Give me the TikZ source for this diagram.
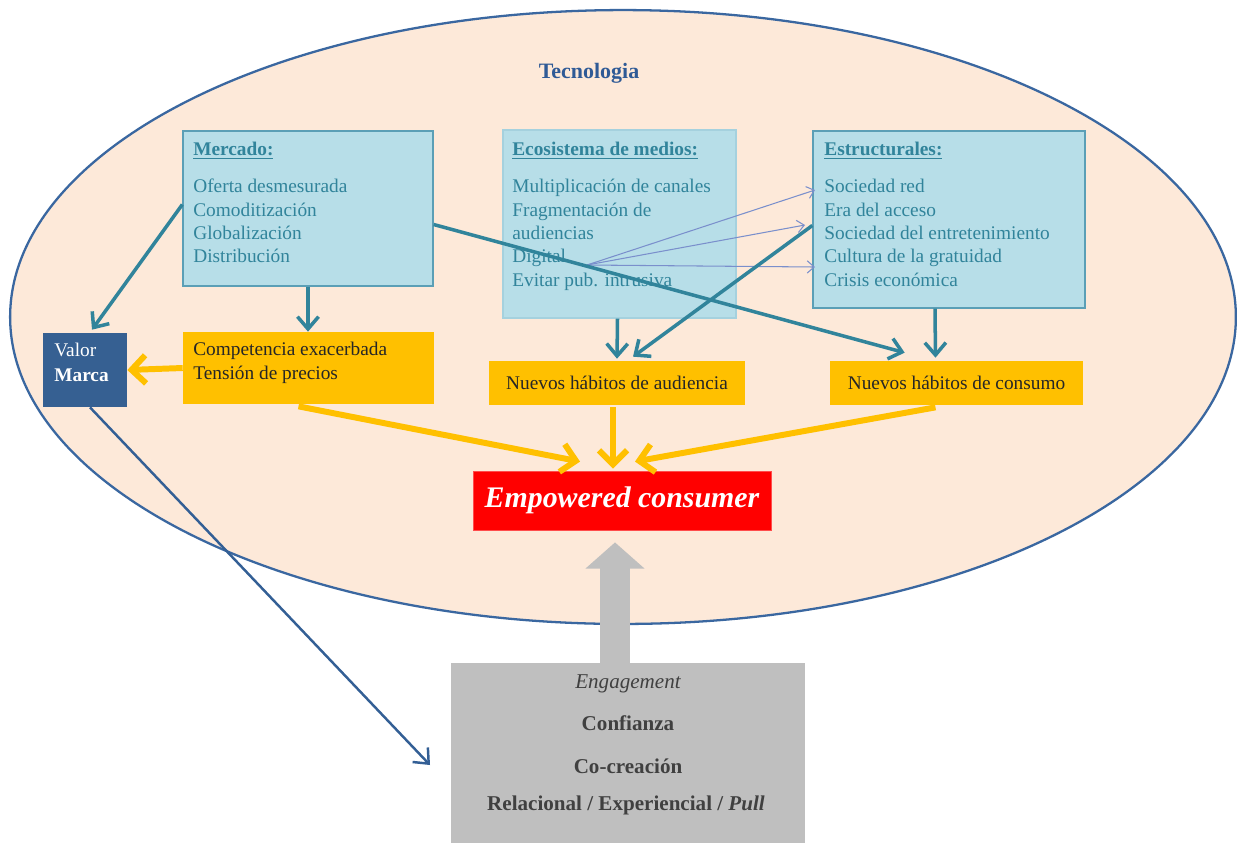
\documentclass[tikz,border=0pt]{standalone}
\usepackage{fontspec}
\setmainfont{Liberation Serif}
\usetikzlibrary{arrows.meta,calc}

\definecolor{ellfill}{HTML}{FDE9D9}
\definecolor{elldraw}{HTML}{3A67A0}
\definecolor{boxblue}{HTML}{B7DEE8}
\definecolor{boxedge}{HTML}{5B9FB6}
\definecolor{teal}{HTML}{31849B}
\definecolor{valorblue}{HTML}{366092}
\definecolor{amber}{HTML}{FFC000}
\definecolor{greybox}{HTML}{BFBFBF}
\definecolor{greytext}{HTML}{404040}
\definecolor{thinblue}{HTML}{7A8FCC}
\definecolor{longblue}{HTML}{335F95}
\definecolor{titleblue}{HTML}{2F5A96}

\newcommand{\txt}{\fontsize{11}{13.3}\selectfont}

\begin{document}
\begin{tikzpicture}[x=0.02cm,y=-0.02cm,
  panel/.style={rectangle,fill=boxblue,draw=boxedge,line width=0.8pt,inner sep=0pt},
  panelhead/.style={anchor=north west,inner sep=0pt,align=left,text=teal,font=\txt},
  amberbox/.style={rectangle,fill=amber,inner sep=0pt},
  tealarrow/.style={draw=teal,line width=2pt,-{Straight Barb[length=7pt,width=12pt]}},
  amberarrow/.style={draw=amber,line width=3.4pt,-{Straight Barb[length=8pt,width=16pt]}},
  thinarrow/.style={draw=thinblue,line width=0.6pt,-{Straight Barb[length=4pt,width=7pt]}},
  greyline/.style={inner sep=0pt,text=greytext,font=\fontsize{12}{14}\selectfont}
]
\useasboundingbox (0,0) rectangle (1237,843);
\fill[white] (0,0) rectangle (1237,843);

% technology ellipse
\draw[fill=ellfill,draw=elldraw,line width=1.3pt] (623,317) ellipse [x radius=12.26cm, y radius=6.14cm];
\node (tecno) at (589,73) [inner sep=0pt,text=titleblue,font=\fontsize{12.5}{14}\selectfont\bfseries] {Tecnologia};

% three driver panels
\node[panel,minimum width=5cm,minimum height=3.1cm] (mercado) at (308,208.5) {};
\node[panelhead] (mercadotxt) at (193,142)
  {\underline{\textbf{Mercado:}}\\[7.7pt]Oferta desmesurada\\Comoditización\\Globalización\\Distribución};

\node[panel,draw=boxblue!80!boxedge,minimum width=4.66cm,minimum height=3.76cm] (eco) at (619.5,224) {};
\node[panelhead] (ecotxt) at (512,142)
  {\underline{\textbf{Ecosistema de medios:}}\\[7.7pt]Multiplicación de canales\\Fragmentación de\\audiencias\\Digital\\Evitar pub. intrusiva};

\node[panel,minimum width=5.44cm,minimum height=3.54cm] (estr) at (949,219.5) {};
\node[panelhead] (estrtxt) at (824,142)
  {\underline{\textbf{Estructurales:}}\\[7.7pt]Sociedad red\\Era del acceso\\Sociedad del entretenimiento\\Cultura de la gratuidad\\Crisis económica};

% effects
\node[rectangle,fill=valorblue,inner sep=0pt,minimum width=1.68cm,minimum height=1.48cm] (valor) at (85,370) {};
\node[anchor=north west,inner sep=0pt,align=left,text=white,font=\fontsize{11}{14}\selectfont] (valortxt) at (54,343) {Valor\\\textbf{Marca}};

\node[amberbox,minimum width=5.02cm,minimum height=1.44cm] (comp) at (308.5,368) {};
\node[anchor=north west,inner sep=0pt,align=left,text=black!85,font=\txt] (comptxt) at (193,342) {Competencia exacerbada\\Tensión de precios};

\node[amberbox,minimum width=5.12cm,minimum height=0.88cm,text=black!85,font=\txt] (aud) at (617,383) {Nuevos hábitos de audiencia};
\node[amberbox,minimum width=5.06cm,minimum height=0.88cm,text=black!85,font=\txt] (cons) at (956.5,383) {Nuevos hábitos de consumo};

\node[rectangle,fill=red,draw=red!70!white,line width=0.5pt,inner sep=0pt,minimum width=5.96cm,minimum height=1.18cm,text=white,font=\fontsize{17}{20}\selectfont\bfseries\itshape] (emp) at (622,500.5) {Empowered consumer};

% engagement block
\node[rectangle,fill=greybox,inner sep=0pt,minimum width=7.08cm,minimum height=3.6cm] (grey) at (628,753) {};
\node[greyline,font=\fontsize{12}{14}\selectfont\itshape] (g1) at (628,684) {Engagement};
\node[greyline,font=\fontsize{12}{14}\selectfont\bfseries] (g2) at (628,723) {Confianza};
\node[greyline,font=\fontsize{12}{14}\selectfont\bfseries] (g3) at (628,766) {Co-creación};
\node[greyline,font=\fontsize{12}{14}\selectfont\bfseries] (g4) at (626,805) {Relacional / Experiencial / \textit{Pull}};

% thick grey upward arrow
\draw[greybox,line width=17pt,-{Triangle[length=15pt,width=33pt]},shorten >=6.8pt]
  ($(grey.north)+(-13,0)$) -- ($(emp.south)+(-7,0)$);

% digital links
\coordinate (dig) at (587,265);
\coordinate (d1) at (815,190);
\coordinate (d2) at (805,225);
\coordinate (d3) at (815,267);
\draw[thinarrow] (dig) -- (d1);
\draw[thinarrow] (dig) -- (d2);
\draw[thinarrow] (dig) -- (d3);

% teal causal arrows
\draw[tealarrow] ($(mercado.west)+(0,-4)$) -- ($(valor.north)+(7,-3)$);
\draw[tealarrow] (mercado.south) -- (mercado.south |- comp.north);
\draw[tealarrow] ($(mercado.east)+(0,16)$) -- ($(cons.north west)+(75,-8)$);
\draw[tealarrow] ($(eco.south)+(-2,0)$) -- ($(aud.north)+(0,-2)$);
\draw[tealarrow] ($(estr.west)+(0,6)$) -- ($(aud.north)+(16,-4)$);
\draw[tealarrow] ($(estr.south)+(-14,0)$) -- ($(cons.north)+(-21,-3)$);

% amber arrows
\draw[amberarrow] (comp.west) -- (valor.east);
\draw[amberarrow] ($(comp.south)+(-10,2)$) -- ($(emp.north)+(-42,-9)$);
\draw[amberarrow] ($(aud.south)+(-4,2)$) -- ($(emp.north)+(-9,-2)$);
\draw[amberarrow] ($(cons.south)+(-21,2)$) -- ($(emp.north)+(13,-9)$);

% brand value feeds the engagement block
\coordinate (bluetip) at (430,765);
\draw[longblue,line width=1.4pt,-{Straight Barb[length=7pt,width=12pt]}] ($(valor.south)+(5,0)$) -- (bluetip);
\end{tikzpicture}
\end{document}
